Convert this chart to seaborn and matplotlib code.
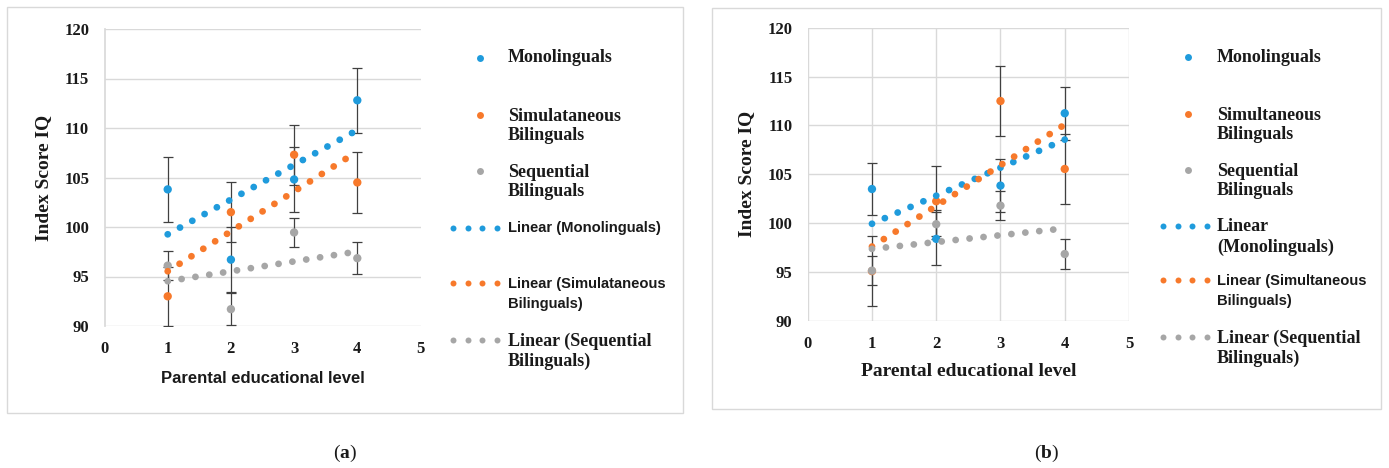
import numpy as np
import pandas as pd
import matplotlib
matplotlib.use("Agg")
import matplotlib.pyplot as plt
import seaborn as sns
from matplotlib.lines import Line2D
from matplotlib.patches import Rectangle

# ---- data ----
levels = [1, 2, 3, 4]

# panel (a)
a_mono = [103.8, 96.7, 104.8, 112.8]
a_mono_err = [3.3, 3.3, 3.3, 3.3]
a_sim = [93.0, 101.5, 107.3, 104.5]
a_sim_err = [3.0, 3.05, 3.05, 3.05]
a_seq = [96.1, 91.7, 99.45, 96.85]
a_seq_err = [1.5, 1.6, 1.5, 1.6]

# panel (b)
b_mono = [103.5, 98.4, 103.85, 111.25]
b_mono_err = [2.7, 2.7, 2.7, 2.7]
b_sim = [95.1, 102.25, 112.5, 105.55]
b_sim_err = [3.55, 3.6, 3.6, 3.6]
b_seq = [95.15, 99.9, 101.8, 96.85]
b_seq_err = [1.5, 1.5, 1.5, 1.5]

groups = ["Monolinguals", "Simultaneous Bilinguals", "Sequential Bilinguals"]
colors = ["#1f9bdc", "#f7792b", "#a6a6a6"]

legend_a = ["Monolinguals", "Simulataneous\nBilinguals", "Sequential\nBilinguals",
            "Linear (Monolinguals)", "Linear (Simulataneous\nBilinguals)",
            "Linear (Sequential\nBilinguals)"]
legend_b = ["Monolinguals", "Simultaneous\nBilinguals", "Sequential\nBilinguals",
            "Linear\n(Monolinguals)", "Linear (Simultaneous\nBilinguals)",
            "Linear (Sequential\nBilinguals)"]

W, H = 1389, 468
SERIF = "Liberation Serif"
SANS = "Liberation Sans"
TXT = "#1a1a1a"
GRID = "#d9d9d9"


def make_df(mono, mono_err, sim, sim_err, seq, seq_err):
    rows = []
    for g, vals, errs in zip(groups, [mono, sim, seq], [mono_err, sim_err, seq_err]):
        for x, v, e in zip(levels, vals, errs):
            rows.append({"level": x, "iq": v, "err": e, "group": g})
    return pd.DataFrame(rows)


def fx(x):
    return x / W


def fy(y):
    return 1 - y / H


def draw_panel(ax, df, vgrid, xlabel_font):
    # data points with error bars
    for g, c in zip(groups, colors):
        d = df[df.group == g]
        ax.errorbar(d.level, d.iq, yerr=d.err, fmt="none", ecolor="#404040",
                    elinewidth=0.9, capsize=3.8, capthick=0.9, zorder=2)
    sns.scatterplot(data=df, x="level", y="iq", hue="group", palette=colors,
                    hue_order=groups, s=36, edgecolor="none", legend=False,
                    ax=ax, zorder=3)
    # linear trendlines (Excel style round-dot)
    for g, c in zip(groups, colors):
        d = df[df.group == g]
        sns.regplot(data=d, x="level", y="iq", scatter=False, ci=None, ax=ax,
                    color=c, line_kws={"linestyle": (0, (0.01, 2.05)),
                                       "linewidth": 4.9,
                                       "dash_capstyle": "round",
                                       "zorder": 4})
    ax.set_xlim(0, 5)
    ax.set_ylim(90, 120)
    ax.set_xticks(range(0, 6))
    ax.set_yticks(range(90, 121, 5))
    ax.grid(axis="y", color=GRID, linewidth=1.0)
    if vgrid:
        ax.grid(axis="x", color=GRID, linewidth=1.0)
    ax.set_axisbelow(True)
    for s in ax.spines.values():
        s.set_visible(False)
    if not vgrid:
        ax.spines["left"].set_visible(True)
        ax.spines["left"].set_color(GRID)
    ax.tick_params(length=0, pad=11, labelsize=12, labelcolor=TXT)
    for lab in ax.get_xticklabels() + ax.get_yticklabels():
        lab.set_fontfamily(SERIF)
        lab.set_fontweight("bold")
    ax.set_ylabel("Index Score IQ", fontsize=14, fontfamily=SERIF,
                  fontweight="bold", color=TXT, labelpad=9)
    if xlabel_font == "sans":
        ax.set_xlabel("Parental educational level", fontsize=12,
                      fontfamily=SANS, fontweight="bold", color=TXT, labelpad=10)
    else:
        ax.set_xlabel("Parental educational level", fontsize=14,
                      fontfamily=SERIF, fontweight="bold", color=TXT, labelpad=8)


def draw_legend(fig, labels, fonts, ys, mx, tx, dots_x0):
    gap = 22  # px between the two lines of an entry
    for i, (lab, f, y) in enumerate(zip(labels, fonts, ys)):
        c = colors[i % 3]
        if i < 3:
            fig.add_artist(Line2D([fx(mx)], [fy(y)], marker="o", markersize=5,
                                  color=c, markeredgewidth=0, linestyle="none"))
        else:
            xs = [fx(dots_x0 + k * 14.5) for k in range(4)]
            fig.add_artist(Line2D(xs, [fy(y)] * 4, marker="o", markersize=4.3,
                                  color=c, markeredgewidth=0, linestyle="none"))
        yc = y + gap / 2 if "\n" in lab else y
        if f == "sans":
            fig.text(fx(tx), fy(yc), lab, fontsize=10.6, fontfamily=SANS,
                     fontweight="bold", color=TXT, ha="left", va="center",
                     linespacing=1.5)
        else:
            fig.text(fx(tx), fy(yc), lab, fontsize=13, fontfamily=SERIF,
                     fontweight="bold", color=TXT, ha="left", va="center",
                     linespacing=1.22)


sns.set_theme(style="white")
plt.rcParams["font.family"] = [SERIF, "DejaVu Serif"]
plt.rcParams["mathtext.fontset"] = "custom"
plt.rcParams["mathtext.rm"] = SERIF
plt.rcParams["mathtext.bf"] = SERIF + ":bold"

fig = plt.figure(figsize=(W / 100, H / 100), dpi=100)
fig.patch.set_facecolor("white")

# panel frames
fig.add_artist(Rectangle((fx(7), fy(413)), fx(683 - 7), (413 - 7) / H,
                         fill=False, edgecolor=GRID, linewidth=1.0))
fig.add_artist(Rectangle((fx(712), fy(409)), fx(1381 - 712), (409 - 8) / H,
                         fill=False, edgecolor=GRID, linewidth=1.0))

ax_a = fig.add_axes([fx(104.5), fy(326), (420.5 - 104.5) / W, (326 - 29) / H])
ax_b = fig.add_axes([fx(807.7), fy(321), (1129 - 807.7) / W, (321 - 27.7) / H])

df_a = make_df(a_mono, a_mono_err, a_sim, a_sim_err, a_seq, a_seq_err)
df_b = make_df(b_mono, b_mono_err, b_sim, b_sim_err, b_seq, b_seq_err)

draw_panel(ax_a, df_a, vgrid=False, xlabel_font="sans")
draw_panel(ax_b, df_b, vgrid=True, xlabel_font="serif")

# legends (markers line up with the first text line)
draw_legend(fig, legend_a,
            ["serif", "serif", "serif", "sans", "sans", "serif"],
            [58, 115, 171, 228, 283, 340], mx=480, tx=508, dots_x0=453)
draw_legend(fig, legend_b,
            ["serif", "serif", "serif", "serif", "sans", "serif"],
            [57, 114, 170, 226, 280, 337], mx=1188, tx=1217, dots_x0=1163)

fig.text(fx(345), fy(453), r"($\mathbf{a}$)", fontsize=14, ha="center",
         va="center", color=TXT)
fig.text(fx(1047), fy(453), r"($\mathbf{b}$)", fontsize=14, ha="center",
         va="center", color=TXT)

fig.savefig("out.png", dpi=100, facecolor="white")
